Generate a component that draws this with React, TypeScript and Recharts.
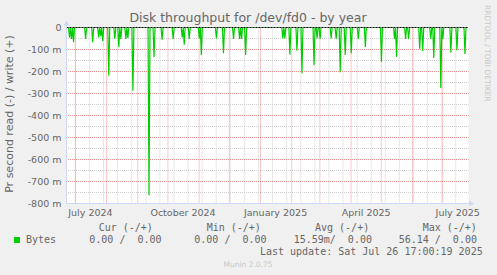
import React from "react";
import { ComposedChart, Line, XAxis, YAxis, CartesianGrid, ReferenceLine } from "recharts";

const DAY = 86400000;
const startTime = Date.UTC(2024, 5, 22, 5, 0);
const endTime = Date.UTC(2025, 6, 26, 17, 0);
const dayCount = 400;

// read spikes: day offset from start, value in milli-bytes/s (read is drawn negative)
const spikeDays = [
  3, 5, 7, 19, 26, 32, 34, 36, 42, 48, 52, 54, 59, 61, 66, 82, 87, 95, 106, 115,
  117, 122, 132, 134, 149, 156, 166, 172, 174, 178, 215, 217, 222, 229, 234, 246,
  249, 252, 263, 268, 272, 277, 283, 290, 297, 313, 326, 328, 337, 340, 351, 354,
  362, 365, 372, 374, 382, 388, 396,
];
const spikeValues = [
  -46, -52, -67, -52, -67, -45, -40, -62, -219, -52, -88, -52, -52, -47, -287, -763, -134, -55, -52, -45,
  -78, -52, -50, -125, -50, -117, -52, -52, -52, -125, -50, -50, -124, -105, -208, -172,
  -50, -52, -50, -52, -203, -125, -117, -52, -88, -156, -52, -134, -52, -52, -97, -107,
  -52, -138, -275, -52, -115, -103, -120,
];

const xTickDates = [
  Date.UTC(2024, 6, 16),
  Date.UTC(2024, 9, 16),
  Date.UTC(2025, 0, 16),
  Date.UTC(2025, 3, 16),
  Date.UTC(2025, 6, 16),
];
const xTickLabels = ["July 2024", "October 2024", "January 2025", "April 2025", "July 2025"];
const yTicks = [0, -100, -200, -300, -400, -500, -600, -700, -800];

const legendHeads = ["Cur (-/+)", "Min (-/+)", "Avg (-/+)", "Max (-/+)"];
const legendValues = ["0.00 /  0.00", "0.00 /  0.00", "15.59m/  0.00", "56.14 /  0.00"];

const data = Array.from({ length: dayCount }, (_, d) => {
  const i = spikeDays.indexOf(d);
  return { t: startTime + d * DAY, v: i >= 0 ? spikeValues[i] : 0 };
});

// grid: months are major (red), every other monday minor (grey)
const monthLines: number[] = [];
for (let m = 6; m <= 18; m++) monthLines.push(Date.UTC(2024, m, 1));
const weekLines: number[] = [];
for (let t = Date.UTC(2024, 5, 17); t <= endTime; t += 14 * DAY) if (t > startTime) weekLines.push(t);
const minorY = [-50, -150, -250, -350, -450, -550, -650, -750];
const majorY = [-100, -200, -300, -400, -500, -600, -700];

const GRID = "#cfcfcf";
const MGRID = "#f58e8e";
const AXIS = "#cfd6f8";
const FONT = "#666666";
const mono = "'DejaVu Sans Mono', monospace";
const pre = (s: string) => s.replace(/ /g, "\u00a0");

export default function App() {
  return (
    <div
      style={{
        position: "absolute",
        left: 0,
        top: 0,
        width: 497,
        height: 275,
        background: "#f0f0f0",
        fontFamily: "'DejaVu Sans', sans-serif",
      }}
    >
      <ComposedChart
        width={497}
        height={275}
        data={data}
        margin={{ top: 27.5, right: 28.5, bottom: 51.5, left: 8.5 }}
      >
        <CartesianGrid fill="#ffffff" stroke="none" horizontal={false} vertical={false} />
        {weekLines.map((t) => (
          <ReferenceLine key={"w" + t} x={t} stroke={GRID} strokeDasharray="1 1" />
        ))}
        {minorY.map((y) => (
          <ReferenceLine key={"my" + y} y={y} stroke={GRID} strokeDasharray="1 1" strokeDashoffset={0.5} />
        ))}
        {monthLines.map((t) => (
          <ReferenceLine key={"m" + t} x={t} stroke={MGRID} strokeDasharray="1 1" />
        ))}
        {majorY.map((y) => (
          <ReferenceLine key={"My" + y} y={y} stroke={MGRID} strokeDasharray="1 1" strokeDashoffset={0.5} />
        ))}
        <XAxis
          dataKey="t"
          type="number"
          domain={[startTime, endTime]}
          ticks={xTickDates}
          interval={0}
          tickFormatter={(t: number) => xTickLabels[xTickDates.indexOf(t)]}
          height={20}
          tickLine={false}
          tickSize={4}
          tickMargin={2}
          axisLine={{ stroke: AXIS }}
          tick={{ fontSize: 9.5, fill: FONT }}
          allowDataOverflow
        />
        <YAxis
          type="number"
          domain={[-800, 0]}
          ticks={yTicks}
          interval={0}
          tickFormatter={(v: number) => (v === 0 ? "0" : `${v} m`)}
          width={58}
          tickLine={false}
          tickSize={3}
          tickMargin={2}
          axisLine={{ stroke: AXIS }}
          tick={{ fontSize: 9.5, fill: FONT }}
          allowDataOverflow
        />
        <Line
          type="linear"
          dataKey="v"
          stroke="#00cc00"
          strokeWidth={1.2}
          dot={false}
          activeDot={false}
          isAnimationActive={false}
        />
        <ReferenceLine y={0} stroke="#000000" strokeDasharray="2 1" />
      </ComposedChart>

      <svg
        width={497}
        height={275}
        style={{ position: "absolute", left: 0, top: 0, pointerEvents: "none" }}
      >
        <text x={248} y={22} textAnchor="middle" fontSize={12.5} fill={FONT}>
          Disk throughput for /dev/fd0 - by year
        </text>
        <text x={13} y={114} textAnchor="middle" fontSize={11} fill={FONT} transform="rotate(-90 13 114)">
          Pr second read (-) / write (+)
        </text>
        <text x={485} y={5} fontSize={7.5} fill="#c8c8c8" transform="rotate(90 485 5)">
          RRDTOOL / TOBI OETIKER
        </text>

        {/* axis arrows */}
        <line x1={66.5} y1={28} x2={66.5} y2={23} stroke={AXIS} />
        <polygon points="63.5,25.5 69.5,25.5 66.5,20.5" fill={AXIS} />
        <line x1={468} y1={203.5} x2={470} y2={203.5} stroke={AXIS} />
        <polygon points="469,200.5 469,206.5 474,203.5" fill={AXIS} />

        <g fontFamily={mono} fontSize={10} fill={FONT}>
          <text x={98.7} y={231}>{pre(legendHeads[0])}</text>
          <text x={206.7} y={231}>{pre(legendHeads[1])}</text>
          <text x={315} y={231}>{pre(legendHeads[2])}</text>
          <text x={422.7} y={231}>{pre(legendHeads[3])}</text>
          <rect x={14} y={237} width={6} height={6} fill="#00cc00" />
          <text x={26} y={243}>Bytes</text>
          <text x={89.3} y={243}>{pre(legendValues[0])}</text>
          <text x={194.3} y={243}>{pre(legendValues[1])}</text>
          <text x={293.7} y={243}>{pre(legendValues[2])}</text>
          <text x={398.7} y={243}>{pre(legendValues[3])}</text>
          <text x={482.7} y={255} textAnchor="end">
            {pre("Last update: Sat Jul 26 17:00:19 2025")}
          </text>
        </g>
        <text x={248} y={267} textAnchor="middle" fontSize={7.5} fill="#c8c8c8">
          Munin 2.0.75
        </text>
      </svg>
    </div>
  );
}
